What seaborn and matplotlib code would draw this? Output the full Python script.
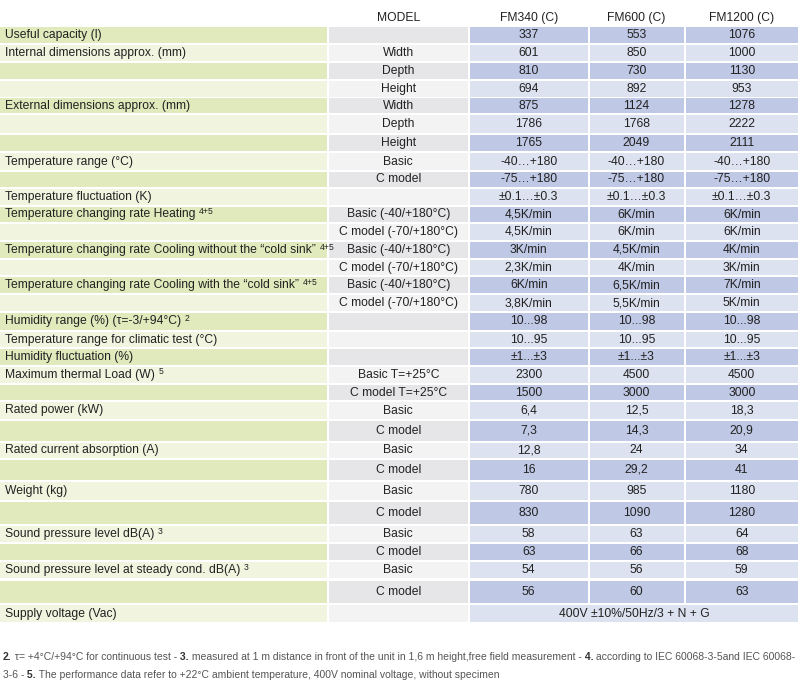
import matplotlib
matplotlib.use("Agg")
import matplotlib.pyplot as plt
import seaborn as sns
import numpy as np

# ---------------- data ----------------
models = ["FM340 (C)", "FM600 (C)", "FM1200 (C)"]

labels = ["Useful capacity (l)", "Internal dimensions approx. (mm)", "", "",
          "External dimensions approx. (mm)", "", "",
          "Temperature range (°C)", "", "Temperature fluctuation (K)",
          "Temperature changing rate Heating", "",
          "Temperature changing rate Cooling without the \u201ccold sink\u201d", "",
          "Temperature changing rate Cooling with the \u201ccold sink\u201d", "",
          "Humidity range (%) (\u03c4=-3/+94°C)", "Temperature range for climatic test (°C)",
          "Humidity fluctuation (%)", "Maximum thermal Load (W)", "",
          "Rated power (kW)", "", "Rated current absorption (A)", "",
          "Weight (kg)", "", "Sound pressure level dB(A)", "",
          "Sound pressure level at steady cond. dB(A)", "", "Supply voltage (Vac)"]

notes = ["", "", "", "", "", "", "", "", "", "", "4+5", "", "4+5", "", "4+5", "",
         "2", "", "", "5", "", "", "", "", "", "", "", "3", "", "3", "", ""]

variants = ["", "Width", "Depth", "Height", "Width", "Depth", "Height", "Basic", "C model", "",
            "Basic (-40/+180°C)", "C model (-70/+180°C)", "Basic (-40/+180°C)", "C model (-70/+180°C)",
            "Basic (-40/+180°C)", "C model (-70/+180°C)", "", "", "",
            "Basic T=+25°C", "C model T=+25°C", "Basic", "C model", "Basic", "C model",
            "Basic", "C model", "Basic", "C model", "Basic", "C model", ""]

fm340 = ["337", "601", "810", "694", "875", "1786", "1765", "-40\u2026+180", "-75\u2026+180",
         "±0.1\u2026±0.3", "4,5K/min", "4,5K/min", "3K/min", "2,3K/min", "6K/min", "3,8K/min",
         "10...98", "10...95", "±1...±3", "2300", "1500", "6,4", "7,3", "12,8", "16",
         "780", "830", "58", "63", "54", "56"]
fm600 = ["553", "850", "730", "892", "1124", "1768", "2049", "-40\u2026+180", "-75\u2026+180",
         "±0.1\u2026±0.3", "6K/min", "6K/min", "4,5K/min", "4K/min", "6,5K/min", "5,5K/min",
         "10...98", "10...95", "±1...±3", "4500", "3000", "12,5", "14,3", "24", "29,2",
         "985", "1090", "63", "66", "56", "60"]
fm1200 = ["1076", "1000", "1130", "953", "1278", "2222", "2111", "-40\u2026+180", "-75\u2026+180",
          "±0.1\u2026±0.3", "6K/min", "6K/min", "4K/min", "3K/min", "7K/min", "5K/min",
          "10...98", "10...95", "±1...±3", "4500", "3000", "18,3", "20,9", "34", "41",
          "1180", "1280", "64", "68", "59", "63"]
supply = "400V ±10%/50Hz/3 + N + G"

footnote1 = [("2.", True), (" \u03c4= +4°C/+94°C for continuous test -", False), (" 3.", True),
             (" measured at 1 m distance in front of the unit in 1,6 m height,free field measurement -", False),
             (" 4.", True), (" according to IEC 60068-3-5and IEC 60068-", False)]
footnote2 = [("3-6 -", False), (" 5.", True),
             (" The performance data refer to +22°C ambient temperature, 400V nominal voltage, without specimen", False)]

# ---------------- layout (pixels) ----------------
row_top = [27.3, 45.3, 63.3, 81, 98, 115.3, 135.3, 153.3, 171.7, 188.7, 206.7, 224, 242, 260,
           277.3, 295.3, 312.7, 332, 349.3, 367.3, 384.7, 402.3, 420.7, 442.7, 460, 482, 502,
           526, 544, 562, 580.7, 605.3]
row_bot = [43.3, 61.3, 79.3, 96.5, 113.3, 133.3, 151.3, 170, 186.7, 204.7, 222.3, 240, 258, 275.3,
           293.3, 310.7, 330, 347.3, 365.3, 382.7, 400.3, 418.7, 440.7, 458, 480, 500, 524,
           542, 560, 578, 603.3, 622]
col_edges = [(0, 326.5), (328.5, 468), (470, 587.5), (589.5, 683.5), (685.5, 798)]

green = ["#e1eabd", "#f1f5df"]
grey = ["#e6e6e9", "#f3f3f3"]
blue = ["#bfc8e4", "#dde2f0"]
txt = "#222222"

sns.set_theme(style="white")
plt.rcParams["font.family"] = ["Liberation Sans", "DejaVu Sans"]

fig = plt.figure(figsize=(8.07, 7.0), dpi=100)
ax = fig.add_axes([0, 0, 1, 1])
ax.set_xlim(0, 807)
ax.set_ylim(700, 0)
ax.axis("off")

top = np.array(row_top)
bot = np.array(row_bot)
h = bot - top
cy = (top + bot) / 2
n = len(top)
idx = np.arange(n)

def shade(pal):
    return [pal[0] if i % 2 == 0 else pal[1] for i in idx]

for (x0, x1), pal in zip(col_edges[:2], [green, grey]):
    ax.barh(cy, x1 - x0, left=x0, height=h, color=shade(pal), linewidth=0)
for (x0, x1) in col_edges[2:]:
    ax.barh(cy[:-1], x1 - x0, left=x0, height=h[:-1], color=shade(blue)[:-1], linewidth=0)
sx0, sx1 = col_edges[2][0], col_edges[4][1]
ax.barh(cy[-1], sx1 - sx0, left=sx0, height=h[-1], color=shade(blue)[-1], linewidth=0)

fs = 8.7
mid_model = (col_edges[1][0] + col_edges[1][1]) / 2
ax.text(mid_model, 18, "MODEL", ha="center", va="center", fontsize=fs, color=txt)
for (x0, x1), m in zip(col_edges[2:], models):
    ax.text((x0 + x1) / 2, 18, m, ha="center", va="center", fontsize=fs, color=txt)

fig.canvas.draw()
rend = fig.canvas.get_renderer()
inv = ax.transData.inverted()

for i in range(n):
    if labels[i]:
        t = ax.text(5, cy[i], labels[i], ha="left", va="center", fontsize=fs, color=txt)
        if notes[i]:
            bb = t.get_window_extent(rend)
            xr = inv.transform((bb.x1, bb.y1))[0]
            ax.text(xr + 3.5, cy[i] - 3, notes[i], ha="left", va="center", fontsize=6.2, color=txt)
    if variants[i]:
        ax.text(mid_model, cy[i], variants[i], ha="center", va="center", fontsize=fs, color=txt)
for (x0, x1), vals in zip(col_edges[2:], [fm340, fm600, fm1200]):
    for i, v in enumerate(vals):
        ax.text((x0 + x1) / 2, cy[i], v, ha="center", va="center", fontsize=fs, color=txt)
ax.text((sx0 + sx1) / 2, cy[-1], supply, ha="center", va="center", fontsize=fs, color=txt)

def draw_line(segs, x, y, size):
    for s, bold in segs:
        t = ax.text(x, y, s, ha="left", va="center", fontsize=size,
                    color="#333333" if bold else "#555555", fontweight="bold" if bold else "normal")
        bb = t.get_window_extent(rend)
        x = inv.transform((bb.x1, bb.y1))[0]
    return x

probe = fig.text(0, 0, "".join(s for s, _ in footnote1), fontsize=10)
wprobe = probe.get_window_extent(rend).width
probe.remove()
fsz = 10 * 797 / wprobe
draw_line(footnote1, 3, 657, fsz)
draw_line(footnote2, 3, 675, fsz)

fig.savefig("out.png", dpi=100)
